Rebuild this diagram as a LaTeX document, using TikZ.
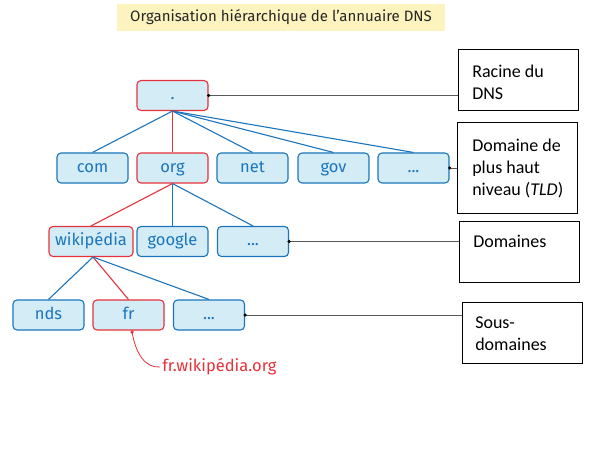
\documentclass[tikz,border=0pt]{standalone}
\usepackage{fontspec}
\setmainfont{Carlito}
\newfontfamily\treefont{Fira Sans}
\usepackage{tikz}
\definecolor{dnsblue}{HTML}{1B75BC}
\definecolor{dnsfill}{HTML}{D3ECF6}
\definecolor{dnsred}{HTML}{E5323B}
\definecolor{titlebg}{HTML}{FCF3BE}
\tikzset{every picture/.style={line width=0.5pt}}
\tikzset{
  dom/.style={draw=dnsblue, fill=dnsfill, rounded corners=4pt, line width=1.1pt,
    minimum height=30pt, minimum width=71pt, inner sep=0pt, text=dnsblue,
    text height=13pt, text depth=4.3pt,
    font=\treefont\fontsize{16.5}{19}\selectfont},
  domred/.style={dom, draw=dnsred},
  bluelink/.style={dnsblue, line width=1.1pt},
  redlink/.style={dnsred, line width=1.1pt},
  notebox/.style={draw, line width=1pt, minimum width=120pt, inner sep=0pt},
  notetext/.style={anchor=west, align=left, inner sep=0pt,
    font=\fontsize{18}{21.6}\selectfont},
  lead/.style={black!65, line width=0.9pt},
  pin/.style={circle, fill, inner sep=0pt, minimum size=3.6pt}
}

\begin{document}
\begin{tikzpicture}[x=1pt,y=-1pt]
\useasboundingbox (0,0) rectangle (597,449);
\fill[white] (0,0) rectangle (597,449);
\node[fill=titlebg, minimum width=328pt, minimum height=27pt, text=black!85,
  font=\treefont\fontsize{15}{18}\selectfont] (title) at (281,17.5)
  {Organisation hiérarchique de l’annuaire DNS};
% arbre
\node[domred] (root) at (172.5,95.5) {.};
\foreach \cx/\nm in {92.5/com, 252.5/net, 333.5/gov}{
  \node[dom] (\nm) at (\cx,168) {\nm};
}
\node[dom] (tldmore) at (413.5,168) {...};
\node[domred] (org) at (172.5,168) {org};
\node[domred, minimum width=84pt] (wiki) at (91,241.5) {wikipédia};
\node[dom] (google) at (172.5,241.5) {google};
\node[dom] (dommore) at (253,241.5) {...};
\node[dom] (nds) at (48.5,315) {nds};
\node[domred] (fr) at (128.5,315) {fr};
\node[dom] (submore) at (209,315) {...};
\foreach \nm in {com,net,gov,tldmore}{\draw[bluelink] (root.south) -- (\nm.north);}
\draw[redlink] (root.south) -- (org.north);
\draw[redlink] (org.south) -- (wiki.north);
\draw[bluelink] (org.south) -- (google.north);
\draw[bluelink] (org.south) -- (dommore.north);
\draw[bluelink] ([xshift=2pt]wiki.south) -- (nds.north);
\draw[redlink] ([xshift=2pt]wiki.south) -- (fr.north);
\draw[bluelink] ([xshift=2pt]wiki.south) -- (submore.north);
% adresse
\node[text=dnsred, font=\treefont\fontsize{16.5}{19}\selectfont, inner sep=2pt,
  anchor=west] (frurl) at (160,367) {fr.wikipédia.org};
\coordinate (frpin) at ([xshift=3.5pt,yshift=-1.5pt]fr.south);
\draw[dnsred, line width=0.8pt] (frpin) .. controls (136,354) and (145,368) .. (frurl.west);
\node[pin, dnsred] at (frpin) {};
% legendes
\node[notebox, minimum height=61pt] (racine) at (518,80.5) {};
\node[notetext] at (472,82.5) {Racine du\\DNS};
\node[notebox, minimum height=91pt] (tld) at (517.5,168.5) {};
\node[notetext] at (472,168.5) {Domaine de\\plus haut\\niveau (\textit{TLD})};
\node[notebox, minimum height=60pt] (domaines) at (519,252) {};
\node[notetext] at (473,241.5) {Domaines};
\node[notebox, minimum height=61pt] (sousdom) at (522,332.5) {};
\node[notetext] at (475,334) {Sous-\\domaines};
\foreach \a/\b in {root/racine, tldmore/tld, dommore/domaines, submore/sousdom}{
  \draw[lead] (\a.east) -- (\a.east -| \b.west);
  \node[pin] at (\a.east) {};
}
\end{tikzpicture}
\end{document}
